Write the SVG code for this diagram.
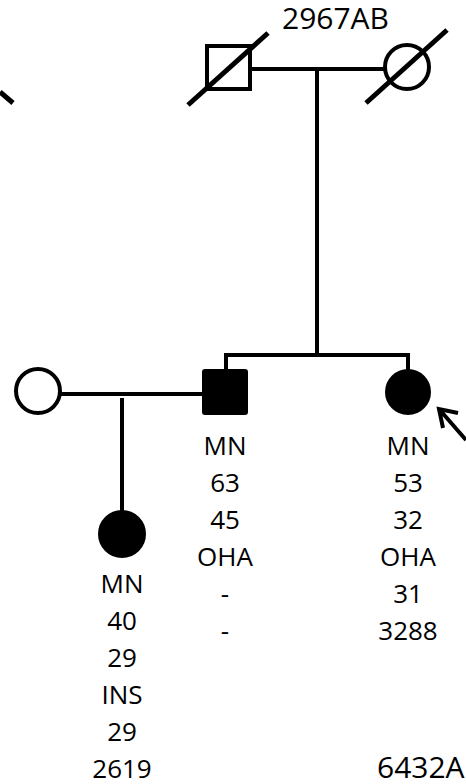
<svg xmlns="http://www.w3.org/2000/svg" width="466" height="784" viewBox="0 0 466 784">
<style>
.ln{stroke:#000;stroke-width:4;fill:none}
.sl{stroke:#000;stroke-width:5;fill:none}
.open{fill:#fff;stroke:#000;stroke-width:4}
.aff{fill:#000;stroke:#000;stroke-width:2}
text{font-family:"Open Sans","Liberation Sans",sans-serif;font-size:26px;fill:#000;text-anchor:middle}
.big{font-size:30px;text-anchor:start}
</style>
<rect width="466" height="784" fill="#fff"/>
<g id="connectors">
<line class="ln" x1="250" y1="69" x2="386" y2="69"/>
<line class="ln" x1="317" y1="69" x2="317" y2="355"/>
<line class="ln" x1="224" y1="355" x2="410" y2="355"/>
<line class="ln" x1="226" y1="353" x2="226" y2="370"/>
<line class="ln" x1="408" y1="353" x2="408" y2="370"/>
<line class="ln" x1="60" y1="394" x2="203" y2="394"/>
<line class="ln" x1="122" y1="398" x2="122" y2="512"/>
<line class="sl" x1="0" y1="92" x2="13" y2="103"/>
<path class="ln" d="M466,440 L439,409 M458,413 L439,409 L443,428" stroke-width="3"/>
</g>
<g id="grandfather">
<rect class="open" x="207" y="46" width="43" height="43"/>
<line class="sl" x1="188" y1="105" x2="268" y2="33"/>
</g>
<g id="grandmother">
<circle class="open" cx="407" cy="67" r="22"/>
<line class="sl" x1="366" y1="103" x2="447" y2="30"/>
</g>
<text class="big" x="282" y="29">2967AB</text>
<g id="spouse">
<circle class="open" cx="38" cy="391" r="22"/>
</g>
<g id="father">
<rect class="aff" x="203" y="370" width="44" height="44" rx="2"/>
<text x="225" y="455">MN</text>
<text x="225" y="492">63</text>
<text x="225" y="529">45</text>
<text x="225" y="566">OHA</text>
<text x="225" y="603">-</text>
<text x="225" y="640">-</text>
</g>
<g id="proband">
<circle class="aff" cx="408" cy="392" r="22"/>
<text x="408" y="455">MN</text>
<text x="408" y="492">53</text>
<text x="408" y="529">32</text>
<text x="408" y="566">OHA</text>
<text x="408" y="603">31</text>
<text x="408" y="640">3288</text>
</g>
<g id="daughter">
<circle class="aff" cx="122" cy="534" r="23"/>
<text x="122" y="593">MN</text>
<text x="122" y="630">40</text>
<text x="122" y="667">29</text>
<text x="122" y="704">INS</text>
<text x="122" y="741">29</text>
<text x="122" y="778">2619</text>
</g>
<text class="big" x="377" y="778">6432A</text>
</svg>
